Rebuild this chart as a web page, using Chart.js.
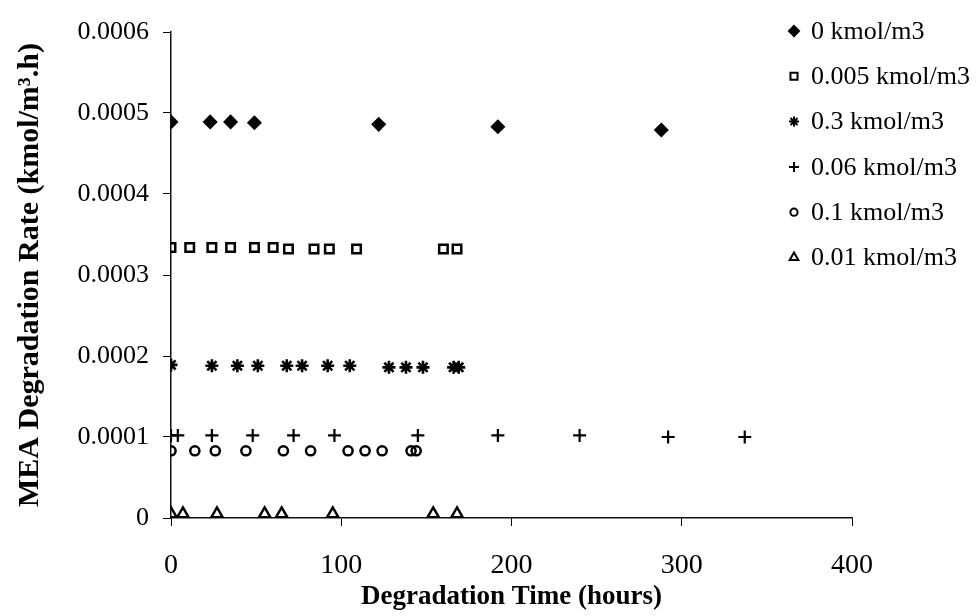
<!DOCTYPE html>
<html>
<head>
<meta charset="utf-8">
<script src="https://cdn.jsdelivr.net/npm/chart.js@4.4.0/dist/chart.umd.min.js"></script>
<style>
  html, body { margin: 0; padding: 0; background: #fff; }
</style>
</head>
<body>
<canvas id="rateChart" width="976" height="616"></canvas>
<script>
const seriesNames = ['0 kmol/m3', '0.005 kmol/m3', '0.3 kmol/m3', '0.06 kmol/m3', '0.1 kmol/m3', '0.01 kmol/m3'];

// degradation time (hours) and rate (kmol/m3.h) per series
const hours0 = [0, 23, 35, 49, 122, 192, 288];
const rate0 = [0.000489, 0.000489, 0.000489, 0.000488, 0.000486, 0.000483, 0.000479];

const hours005 = [0, 11, 24, 35, 49, 60, 69, 84, 93, 109, 160, 168];
const rate005 = [0.000334, 0.000334, 0.000334, 0.000334, 0.000334, 0.000334, 0.000332, 0.000332, 0.000332, 0.000332, 0.000332, 0.000332];

const hours03 = [0, 24, 39, 51, 68, 77, 92, 105, 128, 138, 148, 166, 169];
const rate03 = [0.000189, 0.000188, 0.000188, 0.000188, 0.000188, 0.000188, 0.000188, 0.000188, 0.000186, 0.000186, 0.000186, 0.000186, 0.000186];

const hours006 = [0, 4, 24, 48, 72, 96, 145, 192, 240, 292, 337];
const rate006 = [0.000102, 0.000102, 0.000102, 0.000102, 0.000102, 0.000102, 0.000102, 0.000102, 0.000102, 0.0001, 0.0001];

const hours01 = [0, 14, 26, 44, 66, 82, 104, 114, 124, 141, 144];
const rate01 = [0.000083, 0.000083, 0.000083, 0.000083, 0.000083, 0.000083, 0.000083, 0.000083, 0.000083, 0.000083, 0.000083];

const hours001 = [0, 7, 27, 55, 65, 95, 154, 168];
const rate001 = [0.000005, 0.000005, 0.000005, 0.000005, 0.000005, 0.000005, 0.000005, 0.000005];

const xTicks = [0, 100, 200, 300, 400];
const yTicks = [0, 0.0001, 0.0002, 0.0003, 0.0004, 0.0005, 0.0006];

const serif = '"Liberation Serif", "Times New Roman", serif';

function toPoints(xs, ys) {
  return xs.map((x, i) => ({ x: x, y: ys[i] }));
}

function makeSet(label, xs, ys, style, radius, border, filled) {
  return {
    label: label,
    data: toPoints(xs, ys),
    pointStyle: style,
    pointRadius: radius,
    pointHoverRadius: radius,
    pointBorderWidth: border,
    borderColor: '#000',
    backgroundColor: filled ? '#000' : 'rgba(255,255,255,0)',
    showLine: false
  };
}

const datasets = [
  makeSet(seriesNames[0], hours0, rate0, 'rectRot', 6.5, 1.5, true),
  makeSet(seriesNames[1], hours005, rate005, 'rect', 6, 2.5, false),
  makeSet(seriesNames[2], hours03, rate03, 'star', 6.5, 2.6, false),
  makeSet(seriesNames[3], hours006, rate006, 'cross', 6.5, 2.2, false),
  makeSet(seriesNames[4], hours01, rate01, 'circle', 4.6, 2.5, false),
  makeSet(seriesNames[5], hours001, rate001, 'triangle', 6.5, 2.5, false)
];

// legend drawn on the right, overlapping the plot's width like the original
const sideLegend = {
  id: 'sideLegend',
  afterDraw(chart) {
    const ctx = chart.ctx;
    ctx.save();
    chart.data.datasets.forEach((ds, i) => {
      const y = 31 + i * 45.3;
      ctx.strokeStyle = '#000';
      ctx.fillStyle = ds.backgroundColor;
      ctx.lineWidth = 2;
      Chart.helpers.drawPoint(ctx, {
        pointStyle: ds.pointStyle,
        radius: ds.pointStyle === 'circle' ? 3.6 : 5,
        borderWidth: 2,
        rotation: 0
      }, 794, y);
      ctx.fillStyle = '#000';
      ctx.font = '26px ' + serif;
      ctx.textBaseline = 'middle';
      ctx.textAlign = 'left';
      ctx.fillText(ds.label, 811, y + 1);
    });
    ctx.restore();
  }
};

const ctx = document.getElementById('rateChart').getContext('2d');
const rateChart = new Chart(ctx, {
  type: 'scatter',
  data: { datasets: datasets },
  options: {
    responsive: false,
    animation: false,
    devicePixelRatio: 1,
    layout: { padding: { top: 32, right: 124, bottom: 0, left: 0 } },
    plugins: {
      legend: { display: false },
      tooltip: { enabled: false }
    },
    scales: {
      x: {
        type: 'linear',
        min: 0,
        max: 400,
        afterBuildTicks(scale) { scale.ticks = xTicks.map(v => ({ value: v })); },
        afterFit(scale) { scale.height = 98; },
        ticks: {
          color: '#000',
          font: { family: serif, size: 28 },
          padding: 23,
          maxRotation: 0
        },
        grid: { drawOnChartArea: false, drawTicks: true, tickLength: 8, color: '#000', lineWidth: 1 },
        border: { display: true, color: '#111', width: 1.5 },
        title: {
          display: true,
          text: 'Degradation Time (hours)',
          color: '#000',
          font: { family: serif, size: 27, weight: 'bold' },
          padding: { top: 0, bottom: 3 }
        }
      },
      y: {
        type: 'linear',
        min: 0,
        max: 0.0006,
        afterBuildTicks(scale) { scale.ticks = yTicks.map(v => ({ value: v })); },
        afterFit(scale) { scale.width = 171; },
        ticks: {
          color: '#000',
          font: { family: serif, size: 26 },
          padding: 14,
          callback: v => (v === 0 ? '0' : v.toFixed(4))
        },
        grid: { drawOnChartArea: false, drawTicks: true, tickLength: 8, color: '#000', lineWidth: 1 },
        border: { display: true, color: '#111', width: 1.5 },
        title: {
          display: true,
          text: 'MEA Degradation Rate (kmol/m³.h)',
          color: '#000',
          font: { family: serif, size: 30, weight: 'bold' },
          padding: { top: 12, bottom: 0 }
        }
      }
    }
  },
  plugins: [sideLegend]
});
</script>
</body>
</html>
